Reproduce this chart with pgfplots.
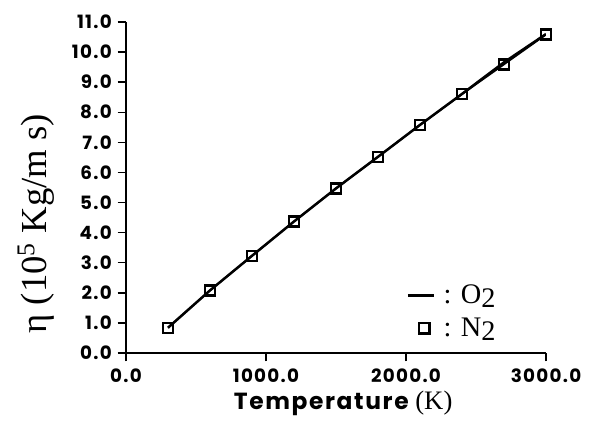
\documentclass[border=0pt]{standalone}
\usepackage{fontspec}
\setmainfont{Liberation Serif}
\newfontfamily\ticksans{Poppins}[LetterSpace=7]
\usepackage{pgfplots}
\pgfplotsset{compat=1.18}

\begin{document}
\begin{tikzpicture}
\begin{axis}[
  scale only axis,
  width=252pt, height=198.6pt,
  xmin=0, xmax=3000, ymin=0, ymax=11,
  axis x line=bottom, axis y line=left,
  axis line style={-, line width=0.9pt},
  xtick={0,1000,2000,3000},
  ytick={0,1,...,11},
  tick align=outside,
  major tick length=5pt,
  tick style={line width=0.9pt, black},
  /pgf/number format/assume math mode=true,
  /pgf/number format/fixed,
  /pgf/number format/fixed zerofill,
  /pgf/number format/precision=1,
  /pgf/number format/1000 sep={},
  scaled ticks=false,
  ticklabel style={font=\ticksans\bfseries\fontsize{11}{12}\selectfont},
  xticklabel style={yshift=-1pt},
  xlabel={{\ticksans\bfseries\fontsize{14}{16}\selectfont Temperature}\hspace{4pt}{\fontsize{16}{18}\selectfont (K)}},
  xlabel style={at={(axis description cs:0.517,0)}, anchor=center, yshift=-30pt},
  ylabel={\fontsize{22}{24}\selectfont η (10\textsuperscript{5} Kg/m s)},
  ylabel style={at={(axis description cs:-0.214,0.39)}, anchor=center},
  legend style={draw=none, fill=none, at={(axis description cs:0.655,0.125)}, anchor=west,
    font=\fontsize{17}{19}\selectfont, row sep=3pt},
  legend cell align=left,
]
% O2: solid line
\addplot[black, line width=1.5pt, no marks,
  legend image code/.code={\draw[line width=1.8pt] (0cm,0cm) -- (0.55cm,0cm);}]
  coordinates {(300,0.84) (600,2.08) (900,3.23) (1200,4.37) (1500,5.47)
               (1800,6.52) (2100,7.58) (2400,8.61) (2700,9.66) (3000,10.60)};
\addlegendentry{\,: O\raisebox{-0.3ex}{2}}
% N2: squares
\addplot[black, line width=1.0pt, mark=square, mark size=3pt,
  mark options={line width=1.4pt},
  legend image code/.code={\draw[mark=square, mark size=3.2pt, line width=1.9pt] plot coordinates {(0.34cm,0cm)};}]
  coordinates {(300,0.84) (600,2.08) (900,3.23) (1200,4.37) (1500,5.47)
               (1800,6.52) (2100,7.58) (2400,8.60) (2700,9.59) (3000,10.58)};
\addlegendentry{\,: N\raisebox{-0.3ex}{2}}
\end{axis}
\useasboundingbox (-75.6pt,-36pt) rectangle (278.4pt,211.8pt);
\end{tikzpicture}
\end{document}
